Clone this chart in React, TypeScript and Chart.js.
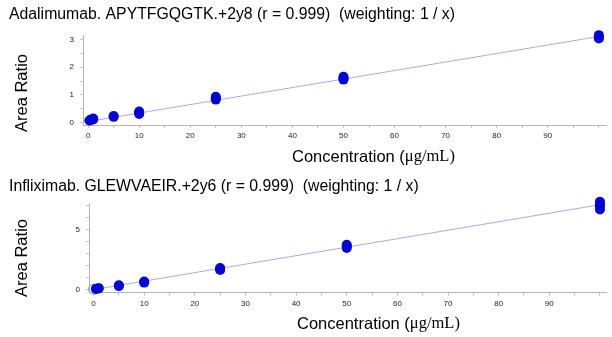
import React, { useEffect, useRef } from 'react';
import { Chart, registerables } from 'chart.js';

Chart.register(...registerables);

// ---- Text ----
const adaTitle = 'Adalimumab. APYTFGQGTK.+2y8 (r = 0.999)  (weighting: 1 / x)';
const infTitle = 'Infliximab. GLEWVAEIR.+2y6 (r = 0.999)  (weighting: 1 / x)';
const yAxisTitle = 'Area Ratio';
const xAxisTitleSans = 'Concentration (';
const xAxisTitleSerif = 'μg/mL)';

// ---- Adalimumab data ----
const adaConc = [0.25, 0.5, 0.5, 1, 1, 5, 5, 10, 10, 10, 25, 25, 25, 50, 50, 50, 100, 100, 100];
const adaRatio = [0.08, 0.09, 0.11, 0.12, 0.15, 0.21, 0.24, 0.31, 0.36, 0.4, 0.83, 0.88, 0.93, 1.55, 1.6, 1.65, 3.03, 3.09, 3.15];
const adaFitX = [0, 100];
const adaFitY = [0.04, 3.1];
const adaYTicks = [0, 1, 2, 3];

// ---- Infliximab data ----
const infConc = [0.5, 0.5, 1, 1, 5, 5, 10, 10, 25, 25, 25, 50, 50, 50, 100, 100, 100, 100];
const infRatio = [0.03, 0.05, 0.07, 0.1, 0.27, 0.34, 0.56, 0.66, 1.62, 1.7, 1.78, 3.45, 3.58, 3.72, 6.65, 6.9, 7.1, 7.3];
const infFitX = [0, 100];
const infFitY = [-0.02, 7.05];
const infOriginX = [0];
const infOriginY = [0];
const infYTicks = [0, 5];

const xTickLabels = [0, 10, 20, 30, 40, 50, 60, 70, 80, 90];

const SANS = '"Liberation Sans", Arial, sans-serif';
const SERIF = '"Liberation Serif", "Times New Roman", serif';

const toPts = (xs: number[], ys: number[]) => xs.map((x, i) => ({ x, y: ys[i] }));

const labelPlugin = {
  id: 'panelLabels',
  afterDraw(chart: any, _args: any, opts: any) {
    const ctx = chart.ctx;
    ctx.save();
    ctx.fillStyle = '#000';
    ctx.textBaseline = 'middle';
    ctx.textAlign = 'left';
    ctx.font = `15.8px ${SANS}`;
    ctx.fillText(opts.title, opts.titleX, opts.titleY);

    ctx.save();
    ctx.translate(opts.yTitleX, opts.yTitleY);
    ctx.rotate(-Math.PI / 2);
    ctx.textAlign = 'center';
    ctx.font = `16.5px ${SANS}`;
    ctx.fillText(yAxisTitle, 0, 0);
    ctx.restore();

    ctx.textAlign = 'left';
    ctx.font = `16.5px ${SANS}`;
    const w1 = ctx.measureText(xAxisTitleSans).width;
    ctx.fillText(xAxisTitleSans, opts.xTitleX, opts.xTitleY);
    ctx.font = `16.5px ${SERIF}`;
    ctx.fillText(xAxisTitleSerif, opts.xTitleX + w1, opts.xTitleY);
    ctx.restore();
  },
};

type PanelProps = {
  width: number;
  height: number;
  top: number;
  area: { left: number; top: number; bottom: number; right: number };
  conc: number[];
  ratio: number[];
  fitX: number[];
  fitY: number[];
  originX?: number[];
  originY?: number[];
  xMin: number;
  xMax: number;
  yMin: number;
  yMax: number;
  yStep: number;
  yTicks: number[];
  labels: any;
};

function Panel(p: PanelProps) {
  const ref = useRef<HTMLCanvasElement>(null);
  useEffect(() => {
    if (!ref.current) return;
    const datasets: any[] = [
      {
        type: 'scatter',
        data: toPts(p.conc, p.ratio),
        pointRadius: 5,
        pointBackgroundColor: '#0505d2',
        pointBorderColor: '#0505d2',
        pointBorderWidth: 0,
        showLine: false,
        clip: false,
      },
    ];
    if (p.originX && p.originY) {
      datasets.push({
        type: 'scatter',
        data: toPts(p.originX, p.originY),
        pointRadius: 5,
        pointBackgroundColor: 'rgba(0,0,0,0)',
        pointBorderColor: '#8a8ae8',
        pointBorderWidth: 1,
        showLine: false,
        clip: false,
      });
    }
    datasets.push({
      type: 'line',
      data: toPts(p.fitX, p.fitY),
      borderColor: '#a9a9ee',
      borderWidth: 1,
      pointRadius: 0,
      fill: false,
      tension: 0,
      clip: false,
    });

    const chart = new Chart(ref.current, {
      type: 'scatter',
      data: { datasets },
      options: {
        responsive: false,
        animation: false,
        events: [],
        layout: {
          padding: { left: 0, top: p.area.top, right: p.width - p.area.right, bottom: 0 },
        },
        plugins: {
          legend: { display: false },
          tooltip: { enabled: false },
          title: { display: false },
          panelLabels: p.labels,
        } as any,
        scales: {
          x: {
            type: 'linear',
            min: p.xMin,
            max: p.xMax,
            afterFit: (s: any) => {
              s.height = p.height - p.area.bottom;
            },
            border: { display: true, color: '#b4b4b4', width: 1 },
            grid: { display: true, drawOnChartArea: false, drawTicks: true, tickLength: 3, color: '#c4c4c4' },
            ticks: {
              stepSize: 5,
              includeBounds: false,
              autoSkip: false,
              maxRotation: 0,
              padding: 3,
              color: '#222',
              font: { family: SANS, size: 8 },
              callback: (v: any) => (xTickLabels.includes(Number(v)) ? String(v) : ''),
            },
          },
          y: {
            type: 'linear',
            min: p.yMin,
            max: p.yMax,
            afterFit: (s: any) => {
              s.width = p.area.left;
            },
            border: { display: true, color: '#b4b4b4', width: 1 },
            grid: { display: true, drawOnChartArea: false, drawTicks: true, tickLength: 3, color: '#c4c4c4' },
            ticks: {
              stepSize: p.yStep,
              includeBounds: false,
              autoSkip: false,
              padding: 6,
              color: '#222',
              font: { family: SANS, size: 8 },
              callback: (v: any) => (p.yTicks.includes(Number(v)) ? String(v) : ''),
            },
          },
        },
      },
      plugins: [labelPlugin as any],
    });
    return () => chart.destroy();
  }, []);
  return (
    <canvas
      ref={ref}
      width={p.width}
      height={p.height}
      style={{ position: 'absolute', left: 0, top: p.top, width: p.width, height: p.height }}
    />
  );
}

export default function App() {
  return (
    <div style={{ position: 'fixed', left: 0, top: 0, width: 612, height: 337, background: '#fff' }}>
      <Panel
        width={612}
        height={168}
        top={0}
        area={{ left: 83, top: 35, bottom: 125, right: 606.5 }}
        conc={adaConc}
        ratio={adaRatio}
        fitX={adaFitX}
        fitY={adaFitY}
        xMin={-1}
        xMax={101.5}
        yMin={-0.083}
        yMax={3.155}
        yStep={0.5}
        yTicks={adaYTicks}
        labels={{ title: adaTitle, titleX: 9, titleY: 15, yTitleX: 22, yTitleY: 93, xTitleX: 292, xTitleY: 157 }}
      />
      <Panel
        width={612}
        height={169}
        top={168}
        area={{ left: 89, top: 35.3, bottom: 124.7, right: 606.5 }}
        conc={infConc}
        ratio={infRatio}
        fitX={infFitX}
        fitY={infFitY}
        originX={infOriginX}
        originY={infOriginY}
        xMin={-0.9}
        xMax={101.2}
        yMin={-0.28}
        yMax={7.17}
        yStep={1}
        yTicks={infYTicks}
        labels={{ title: infTitle, titleX: 9, titleY: 19, yTitleX: 22, yTitleY: 90, xTitleX: 297, xTitleY: 156 }}
      />
    </div>
  );
}
